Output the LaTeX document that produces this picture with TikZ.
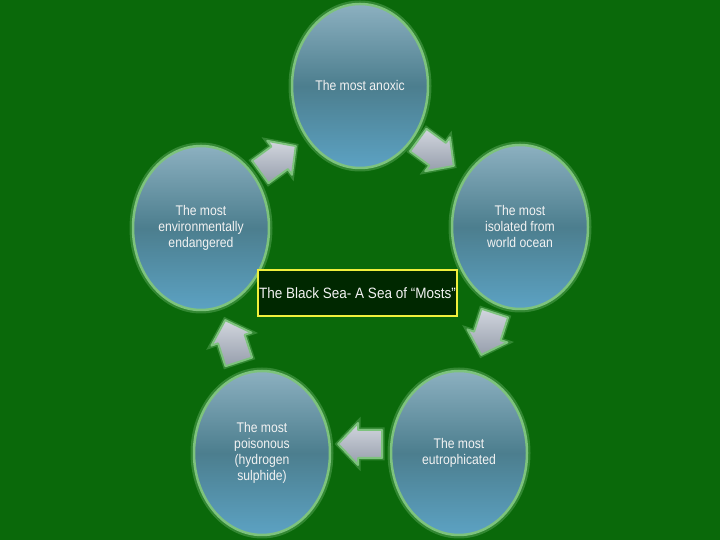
\documentclass[tikz,border=0pt]{standalone}
\usepackage{fontspec}
\setmainfont[FakeStretch=0.87]{Liberation Sans}
\newfontfamily\titlefont[FakeStretch=0.9]{Liberation Sans}
\usetikzlibrary{shapes.geometric}
\definecolor{bggreen}{RGB}{10,105,10}
\definecolor{glow}{RGB}{125,195,125}
\definecolor{elltop}{RGB}{140,176,192}
\definecolor{ellmid}{RGB}{76,126,142}
\definecolor{ellbot}{RGB}{92,162,195}
\definecolor{arrowlight}{RGB}{210,214,222}
\definecolor{arrowdark}{RGB}{150,158,172}
\definecolor{boxfill}{RGB}{0,40,0}
\definecolor{boxline}{RGB}{240,240,60}
\definecolor{txt}{RGB}{242,242,242}
\tikzset{
  stage/.style={ellipse, minimum width=136pt, minimum height=164pt, inner sep=0pt,
    top color=elltop, bottom color=ellbot, middle color=ellmid,
    draw=glow, line width=2.5pt,
    preaction={draw=glow, line width=7pt, opacity=0.35},
    text=txt, align=center, font=\fontsize{14}{16}\selectfont},
  arrowbody/.style={top color=arrowlight, bottom color=arrowdark, draw=glow,
    line width=2pt, line join=round,
    preaction={draw=glow, line width=5pt, opacity=0.35}},
  cycarrow/.pic={\path[arrowbody] (-22,-14) -- (2,-14) -- (2,-21) -- (22,0)
    -- (2,21) -- (2,14) -- (-22,14) -- cycle;},
  titlebox/.style={draw=boxline, line width=2.5pt, fill=boxfill,
    minimum width=199pt, minimum height=46pt, inner sep=0pt, text=txt,
    font=\titlefont\fontsize{15}{18}\selectfont}
}
\begin{document}
\begin{tikzpicture}[x=1pt,y=1pt]
\useasboundingbox (0,0) rectangle (720,540);
\fill[bggreen] (0,0) rectangle (720,540);
\node[stage] (top) at (360,454) {The most anoxic};
\node[stage] (right) at (520,313) {The most\\isolated from\\world ocean};
\node[stage] (left) at (201,312) {The most\\environmentally\\endangered};
\node[stage] (botright) at (459,87) {The most\\eutrophicated};
\node[stage] (botleft) at (262,87) {The most\\poisonous\\(hydrogen\\sulphide)};
\pic[rotate=-36] at (436,387) {cycarrow};
\pic[rotate=-108] at (488,206) {cycarrow};
\pic[rotate=180] at (360,96) {cycarrow};
\pic[rotate=108] at (232,199) {cycarrow};
\pic[rotate=36] at (278,381) {cycarrow};
\node[titlebox] (title) at (357.5,247) {The Black Sea- A Sea of “Mosts”};
\end{tikzpicture}
\end{document}
